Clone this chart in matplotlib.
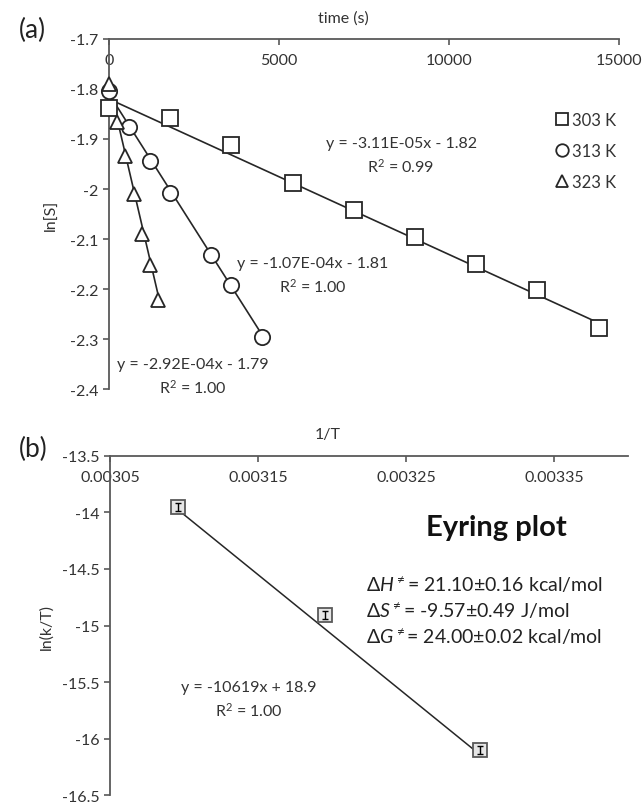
import numpy as np
import matplotlib.pyplot as plt
from matplotlib.ticker import FuncFormatter, MultipleLocator
from matplotlib.lines import Line2D

plt.rcParams['font.family'] = ['Lato', 'DejaVu Sans']
plt.rcParams['mathtext.fontset'] = 'custom'
plt.rcParams['mathtext.rm'] = 'Lato'
plt.rcParams['mathtext.it'] = 'Lato:italic'

# panel (a): ln[S] vs time
t303 = [0, 1800, 3600, 5400, 7200, 9000, 10800, 12600, 14400]
y303 = [-1.838, -1.858, -1.913, -1.988, -2.041, -2.096, -2.149, -2.202, -2.278]
t313 = [0, 600, 1200, 1800, 3000, 3600, 4500]
y313 = [-1.805, -1.877, -1.945, -2.008, -2.131, -2.191, -2.296]
t323 = [0, 240, 480, 720, 960, 1200, 1440]
y323 = [-1.790, -1.866, -1.935, -2.010, -2.090, -2.151, -2.222]
temps = ['303 K', '313 K', '323 K']
slopes = [-3.11e-05, -1.07e-04, -2.92e-04]
intercepts = [-1.82, -1.81, -1.79]
fit_labels = ['y = -3.11E-05x - 1.82\nR$^2$ = 0.99',
              'y = -1.07E-04x - 1.81\nR$^2$ = 1.00',
              'y = -2.92E-04x - 1.79\nR$^2$ = 1.00']

# panel (b): Eyring plot
inv_T = [0.003096, 0.003195, 0.003300]
ln_kT = [-13.95, -14.91, -16.10]
ln_kT_err = [0.035, 0.035, 0.035]
eyring_slope = -10619
eyring_intercept = 18.9

dark = '#262626'
axcol = '#595959'
txt = '#333333'

fig = plt.figure(figsize=(6.44, 8.03), dpi=100)
ax1 = fig.add_axes([0.1693, 0.5143, 0.7919, 0.4359])
ax2 = fig.add_axes([0.1708, 0.0087, 0.8043, 0.4222])

fmt = FuncFormatter(lambda v, p: '%g' % round(v, 6))
for ax in (ax1, ax2):
    ax.spines['top'].set_visible(False)
    ax.spines['right'].set_visible(False)
    ax.spines['bottom'].set_position(('axes', 1.0))
    ax.spines['bottom'].set_color(axcol)
    ax.spines['left'].set_color(axcol)
    ax.spines['bottom'].set_linewidth(1.3)
    ax.spines['left'].set_linewidth(1.3)
    ax.tick_params(direction='out', length=4, width=1.2, color=axcol,
                   labelsize=11.5, labelcolor=txt)
    ax.tick_params(axis='x', pad=6)
    ax.yaxis.set_major_formatter(fmt)
    ax.xaxis.set_major_formatter(fmt)

# ---- panel a
ax1.set_xlim(0, 15000)
ax1.set_ylim(-2.4, -1.7)
ax1.xaxis.set_major_locator(MultipleLocator(5000))
ax1.yaxis.set_major_locator(MultipleLocator(0.1))

series = [(t303, y303, 's', 11), (t313, y313, 'o', 11), (t323, y323, '^', 10)]
handles = []
for (t, y, m, ms), s, b, lab in zip(series, slopes, intercepts, temps):
    xs = np.array([0, max(t)])
    ax1.plot(xs, s * xs + b, color=dark, lw=1.2, zorder=2, clip_on=False)
    ax1.plot(t, y, linestyle='none', marker=m, ms=ms, mfc='white', mec=dark,
             mew=1.3, zorder=3, clip_on=False)
    handles.append(Line2D([], [], linestyle='none', marker=m, ms=9, mfc='white',
                          mec=dark, mew=1.3, label=lab))

ax1.legend(handles=handles, loc='upper left', bbox_to_anchor=(0.855, 0.815),
           frameon=False, borderpad=0, handletextpad=0.1, handlelength=1.0,
           labelspacing=0.9, fontsize=12, labelcolor=txt)

ax1.text(8590, -1.933, fit_labels[0], ha='center', va='center', fontsize=11.5,
         color=txt, linespacing=1.45)
ax1.text(6000, -2.173, fit_labels[1], ha='center', va='center', fontsize=11.5,
         color=txt, linespacing=1.45)
ax1.text(2470, -2.375, fit_labels[2], ha='center', va='center', fontsize=11.5,
         color=txt, linespacing=1.45)

ax1.text(0.46, 1.06, 'time (s)', transform=ax1.transAxes, ha='center',
         va='center', fontsize=11.5, color=txt)
ax1.set_ylabel('ln[S]', fontsize=11.5, color=txt, labelpad=8)
fig.text(0.03, 0.962, '(a)', fontsize=19, va='center', color='#222222')

# ---- panel b
ax2.set_xlim(0.00305, 0.0034)
ax2.set_ylim(-16.5, -13.5)
ax2.set_xticks([0.00305, 0.00315, 0.00325, 0.00335])
ax2.yaxis.set_major_locator(MultipleLocator(0.5))

xs = np.array([min(inv_T), max(inv_T)])
ax2.plot(xs, eyring_slope * xs + eyring_intercept, color=dark, lw=1.1, zorder=2)
ax2.plot(inv_T, ln_kT, linestyle='none', marker='s', ms=10, mfc='#e6e6e6',
         mec='#595959', mew=1.3, zorder=3)
ax2.errorbar(inv_T, ln_kT, yerr=ln_kT_err, fmt='none', ecolor='black',
             elinewidth=1, capsize=2.5, capthick=1, zorder=4)

ax2.text(0.003311, -14.13, 'Eyring plot', ha='center', va='center',
         fontsize=21, fontweight='bold', color='#111111')
ax2.text(0.003223, -14.63, r'$\Delta\mathit{H}^{\neq}$= 21.10±0.16 kcal/mol',
         ha='left', va='center', fontsize=14, color='#222222')
ax2.text(0.003223, -14.86, r'$\Delta\mathit{S}^{\neq}$= -9.57±0.49 J/mol',
         ha='left', va='center', fontsize=14, color='#222222')
ax2.text(0.003223, -15.09, r'$\Delta\mathit{G}^{\neq}$= 24.00±0.02 kcal/mol',
         ha='left', va='center', fontsize=14, color='#222222')
ax2.text(0.003144, -15.65, 'y = -10619x + 18.9\nR$^2$ = 1.00', ha='center',
         va='center', fontsize=11.5, color=txt, linespacing=1.45)

ax2.text(0.42, 1.065, '1/T', transform=ax2.transAxes, ha='center',
         va='center', fontsize=11.5, color=txt)
ax2.set_ylabel('ln(k/T)', fontsize=11.5, color=txt, labelpad=6)
fig.text(0.03, 0.44, '(b)', fontsize=19, va='center', color='#222222')

fig.savefig('out.png', dpi=100)
